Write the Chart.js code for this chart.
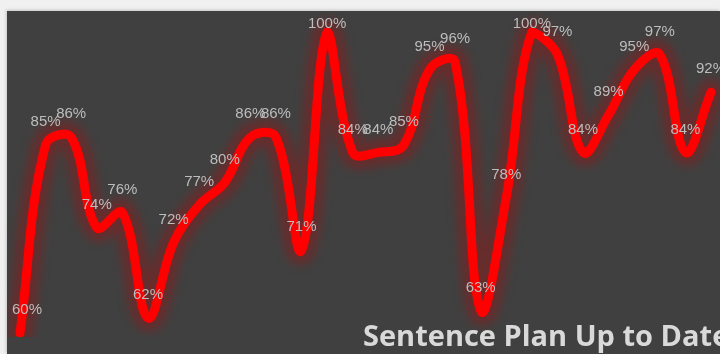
<!DOCTYPE html>
<html>
<head>
<meta charset="utf-8">
<script src="https://cdn.jsdelivr.net/npm/chart.js@4.4.1/dist/chart.umd.min.js"></script>
<style>
  html, body { margin: 0; padding: 0; width: 720px; height: 354px; overflow: hidden; background: #f0f0f0; }
  #wrap {
    position: absolute; left: 7px; top: 11px; width: 713px; height: 343px;
    background: #404040; box-shadow: -1px -1px 3px rgba(0,0,0,0.18);
  }
</style>
</head>
<body>
<div id="wrap"><canvas id="chart" width="713" height="343"></canvas></div>
<script>
  // ── Data ─────────────────────────────────────────
  const categories = ['1','2','3','4','5','6','7','8','9','10','11','12','13','14',
                      '15','16','17','18','19','20','21','22','23','24','25','26','27','28'];
  const values = [0.60, 0.85, 0.86, 0.74, 0.76, 0.62, 0.72, 0.77, 0.80, 0.86, 0.86, 0.71, 1.00, 0.84,
                  0.84, 0.85, 0.95, 0.96, 0.63, 0.78, 1.00, 0.97, 0.84, 0.89, 0.95, 0.97, 0.84, 0.92];
  const yMin = 0.6;
  const yMax = 1.0;
  const title = 'Sentence Plan Up to Date';

  // ── Plugins ──────────────────────────────────────
  // soft glow round the line: a wide translucent blurred stroke under the real one
  const glow = {
    id: 'glow',
    beforeDatasetDraw(chart) {
      const ctx  = chart.ctx;
      const line = chart.getDatasetMeta(0).dataset;
      const area = chart.chartArea;
      ctx.save();
      ctx.beginPath();
      ctx.rect(area.left - 20, area.top - 20, area.right - area.left + 40, area.bottom - area.top + 24);
      ctx.clip();
      ctx.filter = 'blur(5px)';
      ctx.strokeStyle = 'rgba(150,20,20,0.45)';
      ctx.lineWidth = 26;
      ctx.lineCap = 'round';
      ctx.lineJoin = 'round';
      ctx.beginPath();
      line.path(ctx);
      ctx.stroke();
      ctx.restore();
    }
  };

  const pointLabels = {
    id: 'pointLabels',
    afterDatasetsDraw(chart) {
      const ctx  = chart.ctx;
      const meta = chart.getDatasetMeta(0);
      ctx.save();
      ctx.font = '15px "Liberation Sans", Arial, sans-serif';
      ctx.fillStyle = '#bdbdbd';
      ctx.textAlign = 'center';
      ctx.textBaseline = 'middle';
      meta.data.forEach((pt, i) => {
        const txt = Math.round(values[i] * 100) + '%';
        const w = ctx.measureText(txt).width;
        const x = Math.max(pt.x, 5 + w / 2);
        const y = Math.max(pt.y - 23, 13);
        ctx.fillText(txt, x, y);
      });
      ctx.restore();
    }
  };

  const bottomTitle = {
    id: 'bottomTitle',
    afterDraw(chart) {
      const ctx = chart.ctx;
      ctx.save();
      ctx.font = 'bold 29px "Open Sans", sans-serif';
      ctx.fillStyle = '#d9d9d9';
      ctx.textAlign = 'left';
      ctx.textBaseline = 'alphabetic';
      ctx.fillText(title, 356, 335);
      ctx.restore();
    }
  };

  // ── Chart ────────────────────────────────────────
  new Chart(document.getElementById('chart'), {
    type: 'line',
    data: {
      labels: categories,
      datasets: [{
        data: values,
        borderColor: '#ff0000',
        borderWidth: 9,
        borderCapStyle: 'round',
        borderJoinStyle: 'round',
        pointRadius: 0,
        tension: 0.38,
        fill: false,
        clip: { left: 20, top: 20, right: 20, bottom: 4 }
      }]
    },
    options: {
      responsive: false,
      animation: false,
      layout: { padding: { left: 13, right: 9, top: 21, bottom: 21 } },
      plugins: { legend: { display: false }, tooltip: { enabled: false } },
      scales: {
        x: { display: false, offset: false },
        y: { display: false, min: yMin, max: yMax }
      }
    },
    plugins: [glow, pointLabels, bottomTitle]
  });
</script>
</body>
</html>
